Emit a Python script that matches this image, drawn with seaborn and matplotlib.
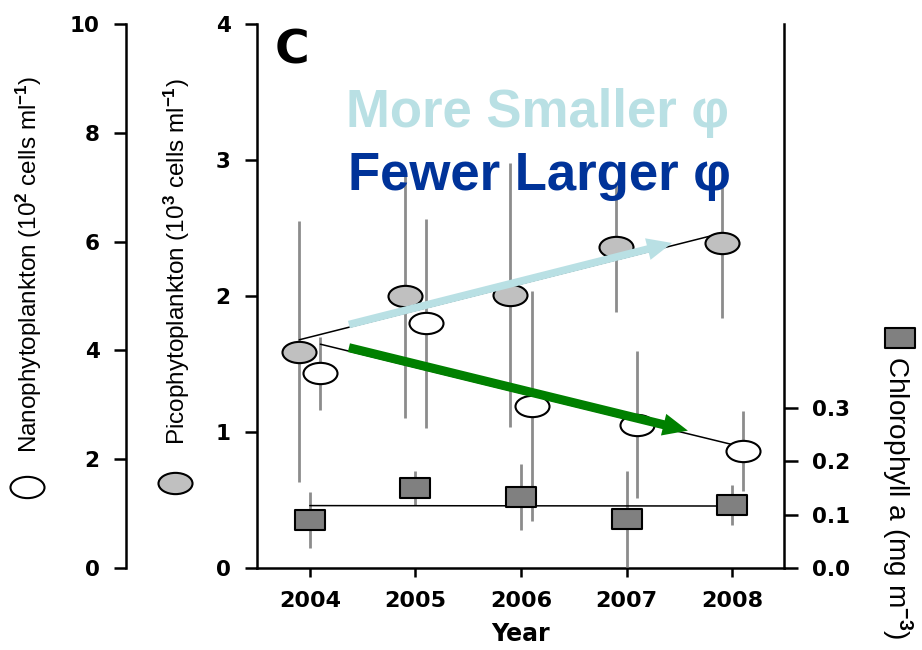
import numpy as np
import pandas as pd
import seaborn as sns
import matplotlib.pyplot as plt
from matplotlib import font_manager
from matplotlib.path import Path
from matplotlib.markers import MarkerStyle
from matplotlib.transforms import Affine2D
from matplotlib.lines import Line2D

# Values
years = np.array([2004, 2005, 2006, 2007, 2008])
pico = [1.59, 2.00, 2.01, 2.36, 2.39]          # 10^3 cells/ml
pico_err = [0.96, 0.90, 0.97, 0.48, 0.55]
nano = [3.58, 4.50, 2.98, 2.63, 2.15]          # 10^2 cells/ml
nano_err = [0.67, 1.92, 2.12, 1.35, 0.73]
chl = [0.090, 0.150, 0.133, 0.092, 0.118]      # mg m-3
chl_err = [0.052, 0.031, 0.062, 0.090, 0.038]

df = pd.DataFrame({"year": years, "pico": pico, "pico_err": pico_err,
                   "nano": nano, "nano_err": nano_err,
                   "chl": chl, "chl_err": chl_err})
df["x_pico"] = df["year"] - 0.1
df["x_nano"] = df["year"] + 0.1

# Colours
GREY_BAR = "#8c8c8c"
PICO_FILL = "#c0c0c0"
CHL_FILL = "#808080"
LIGHT_BLUE = "#b9e0e4"
DARK_BLUE = "#003399"
GREEN = "#008000"

sns.set_style("ticks")
names = {f.name for f in font_manager.fontManager.ttflist}
if "Liberation Sans Narrow" in names:
    LABEL_FONT, LABEL_SIZE = "Liberation Sans Narrow", 21
else:
    LABEL_FONT, LABEL_SIZE = "Liberation Sans", 17.5
plt.rcParams["font.family"] = ["DejaVu Sans"]
plt.rcParams["font.weight"] = "bold"
plt.rcParams["mathtext.fontset"] = "custom"
plt.rcParams["mathtext.rm"] = LABEL_FONT
plt.rcParams["mathtext.it"] = LABEL_FONT
plt.rcParams["axes.linewidth"] = 1.8
for key in ("text.color", "axes.labelcolor", "axes.edgecolor",
            "xtick.color", "ytick.color"):
    plt.rcParams[key] = "black"

# squashed markers like in the original
ellipse = MarkerStyle(Affine2D().scale(1.6, 1).transform_path(Path.unit_circle()))
rect = MarkerStyle(Path([(-1.5, -1), (1.5, -1), (1.5, 1), (-1.5, 1), (-1.5, -1)],
                        closed=True))

fig = plt.figure(figsize=(9.22, 6.5), dpi=100)
ax = fig.add_axes([257 / 922, 1 - 568 / 650, 527 / 922, 544 / 650])
ax_nano = ax.twinx()
ax_chl = ax.twinx()

# Picophytoplankton (inner left axis)
ax.errorbar(df["x_pico"], df["pico"], yerr=df["pico_err"], fmt="none",
            ecolor=GREY_BAR, elinewidth=2, capsize=0, zorder=1)
sns.regplot(data=df, x="x_pico", y="pico", ax=ax, scatter=False, ci=None,
            color="black", line_kws=dict(lw=1.1, zorder=2))
sns.scatterplot(data=df, x="x_pico", y="pico", ax=ax, marker=ellipse, s=600,
                color=PICO_FILL, edgecolor="black", linewidth=1.5, zorder=3,
                legend=False)

# Nanophytoplankton (outer left axis)
ax_nano.errorbar(df["x_nano"], df["nano"], yerr=df["nano_err"], fmt="none",
                 ecolor=GREY_BAR, elinewidth=2, capsize=0, zorder=1)
sns.regplot(data=df, x="x_nano", y="nano", ax=ax_nano, scatter=False, ci=None,
            color="black", line_kws=dict(lw=1.1, zorder=2))
sns.scatterplot(data=df, x="x_nano", y="nano", ax=ax_nano, marker=ellipse, s=600,
                color="white", edgecolor="black", linewidth=1.5, zorder=3,
                legend=False)

# Chlorophyll a (right axis)
ax_chl.errorbar(df["year"], df["chl"], yerr=df["chl_err"], fmt="none",
                ecolor=GREY_BAR, elinewidth=2, capsize=0, zorder=1)
sns.regplot(data=df, x="year", y="chl", ax=ax_chl, scatter=False, ci=None,
            color="black", line_kws=dict(lw=1.1, zorder=2))
sns.scatterplot(data=df, x="year", y="chl", ax=ax_chl, marker=rect, s=467,
                color=CHL_FILL, edgecolor="black", linewidth=1.5, zorder=3,
                legend=False)

# axes set-up
ax.set_xlim(2003.5, 2008.49)
ax.set_xticks(years)
ax.set_xticklabels([str(y) for y in years])
ax.set_ylim(0, 4)
ax.set_yticks([0, 1, 2, 3, 4])
ax_nano.set_ylim(0, 10)
ax_nano.set_yticks([0, 2, 4, 6, 8, 10])
ax_chl.set_ylim(0, 1.02)
ax_chl.set_yticks([0.0, 0.1, 0.2, 0.3])
ax_chl.set_yticklabels(["0.0", "0.1", "0.2", "0.3"])

for a in (ax, ax_nano, ax_chl):
    a.set_xlabel("")
    a.set_ylabel("")
    for s in a.spines.values():
        s.set_visible(False)

ax.spines["left"].set_visible(True)
ax.spines["bottom"].set_visible(True)
ax_nano.spines["left"].set_visible(True)
ax_nano.spines["left"].set_position(("axes", (126 - 257) / 527))
ax_nano.yaxis.set_ticks_position("left")
ax_chl.spines["right"].set_visible(True)

ax.tick_params(axis="x", length=6.5, width=1.8, pad=10, labelsize=16)
ax.tick_params(axis="y", length=9, width=1.8, pad=10, labelsize=15.5)
ax_nano.tick_params(axis="y", length=9, width=1.8, pad=10, labelsize=15.5)
ax_chl.tick_params(axis="y", length=10, width=1.8, pad=10, labelsize=15.5)

ax.set_xlabel("Year", fontsize=17, fontweight="bold", labelpad=8)

# arrows on top of everything
arrows = [((2004.37, 1.79), (2007.43, 2.39), LIGHT_BLUE, 5.5),
          ((2004.37, 1.62), (2007.58, 1.01), GREEN, 6.5)]
for start, end, col, tw in arrows:
    ax_chl.annotate("", xy=end, xytext=start, xycoords=ax.transData,
                    textcoords=ax.transData, annotation_clip=False,
                    arrowprops=dict(arrowstyle=f"simple,head_length=18,head_width=16,tail_width={tw}",
                                    mutation_scale=1, color=col, shrinkA=0, shrinkB=0,
                                    lw=0))

# texts
fig.text(275 / 922, 1 - 63 / 650, "C", fontsize=34, fontweight="bold",
         family="DejaVu Sans", va="baseline", ha="left")
fig.text(346 / 922, 1 - 127 / 650, "More Smaller φ", fontsize=38, color=LIGHT_BLUE,
         fontweight="bold", family="Liberation Sans", va="baseline", ha="left")
fig.text(348 / 922, 1 - 190 / 650, "Fewer Larger φ", fontsize=38, color=DARK_BLUE,
         fontweight="bold", family="Liberation Sans", va="baseline", ha="left")

lab = dict(family=LABEL_FONT, fontweight="normal", ha="center", va="center")
fig.text(29 / 922, 1 - 264 / 650, r"Nanophytoplankton (10$^{2}$ cells ml$^{-1}$)",
         rotation=90, fontsize=LABEL_SIZE, **lab)
fig.text(177 / 922, 1 - 262 / 650, r"Picophytoplankton (10$^{3}$ cells ml$^{-1}$)",
         rotation=90, fontsize=LABEL_SIZE, **lab)
fig.text(897 / 922, 1 - 498 / 650, r"Chlorophyll a (mg m$^{-3}$)",
         rotation=270, fontsize=LABEL_SIZE * 1.15, **lab)

# legend symbols next to the axis labels
legend_marks = [(27, 487, ellipse, "white", 24.5),
                (175, 483, ellipse, PICO_FILL, 24.5),
                (900, 338, rect, CHL_FILL, 21.6)]
for px, py, m, fc, ms in legend_marks:
    fig.add_artist(Line2D([px / 922], [1 - py / 650], transform=fig.transFigure,
                          marker=m, markersize=ms, markerfacecolor=fc,
                          markeredgecolor="black", markeredgewidth=1.5,
                          linestyle="none"))

fig.savefig("out.png", dpi=100)
